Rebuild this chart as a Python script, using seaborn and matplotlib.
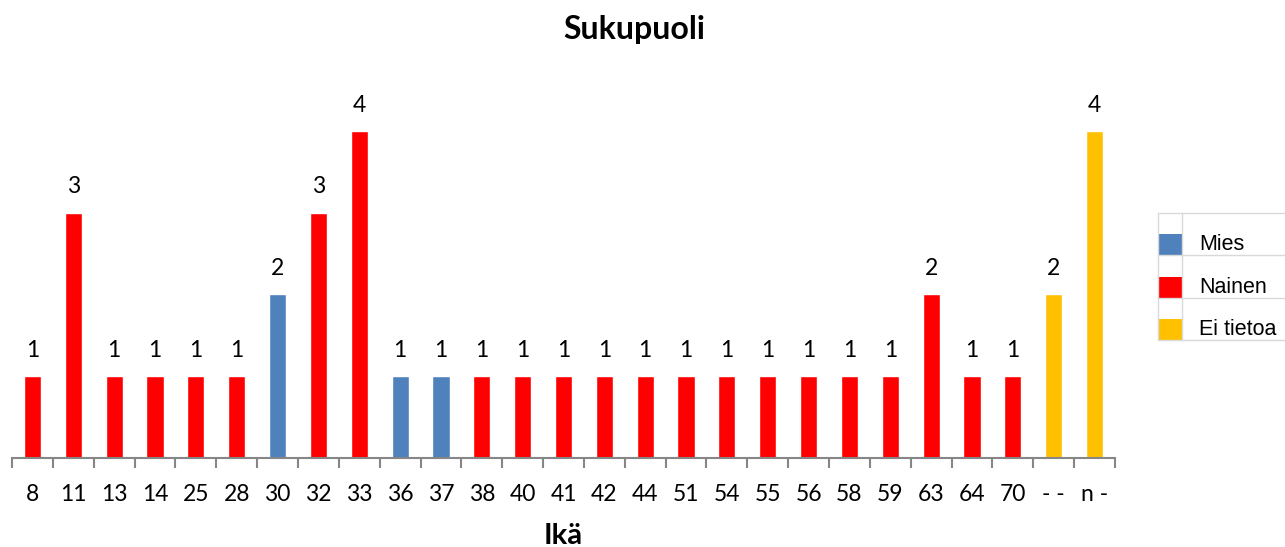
import matplotlib
matplotlib.use("Agg")
import matplotlib.pyplot as plt
import seaborn as sns
import pandas as pd
from matplotlib.patches import Rectangle
from matplotlib.lines import Line2D

ages = ["8", "11", "13", "14", "25", "28", "30", "32", "33", "36", "37", "38", "40", "41",
        "42", "44", "51", "54", "55", "56", "58", "59", "63", "64", "70", "- -", "n -"]
counts = [1, 3, 1, 1, 1, 1, 2, 3, 4, 1, 1, 1, 1, 1, 1, 1, 1, 1, 1, 1, 1, 1, 2, 1, 1, 2, 4]
gender = ["Nainen", "Nainen", "Nainen", "Nainen", "Nainen", "Nainen", "Mies", "Nainen", "Nainen",
          "Mies", "Mies", "Nainen", "Nainen", "Nainen", "Nainen", "Nainen", "Nainen", "Nainen",
          "Nainen", "Nainen", "Nainen", "Nainen", "Nainen", "Nainen", "Nainen", "Ei tietoa", "Ei tietoa"]
legend_labels = ["Mies", "Nainen", "Ei tietoa"]
colors = {"Mies": "#4F81BD", "Nainen": "#FF0000", "Ei tietoa": "#FFC000"}

sns.set_theme(style="white")
plt.rcParams['font.family'] = ['Lato', 'DejaVu Sans']
plt.rcParams['text.color'] = 'black'
plt.rcParams['xtick.color'] = 'black'
plt.rcParams['axes.labelcolor'] = 'black'

W, H = 1285, 547
fig = plt.figure(figsize=(W / 100, H / 100), dpi=100)
ax = fig.add_axes([12 / W, (H - 458) / H, (1115 - 12) / W, (458 - 90) / H])

df = pd.DataFrame({"age": ages, "count": counts, "gender": gender})
sns.barplot(data=df, x="age", y="count", hue="gender", order=ages, hue_order=legend_labels,
            palette=colors, dodge=False, width=0.42, legend=False, ax=ax, saturation=1)

ax.set_ylim(0, 4.5)
ax.set_xlim(-0.5, len(ages) - 0.5)
for sp in ["left", "right", "top"]:
    ax.spines[sp].set_visible(False)
ax.spines["bottom"].set_color("#868686")
ax.spines["bottom"].set_linewidth(1.5)
ax.set_yticks([])
ax.set_xticks(range(len(ages)))
ax.set_xticklabels(ages, fontsize=16.5, color="black")
ax.set_xticks([i - 0.5 for i in range(len(ages) + 1)], minor=True)
ax.tick_params(axis="x", which="major", length=0, pad=19)
ax.tick_params(axis="x", which="minor", length=7, width=1.5, color="#868686", direction="out", bottom=True)

for c in ax.containers:
    ax.bar_label(c, labels=[str(int(v)) if v > 0 else "" for v in c.datavalues], padding=11,
                 fontsize=16.5, color="black")

ax.set_xlabel("Ikä", fontsize=21, fontweight="bold", labelpad=13, color="black")
ax.set_ylabel("")
fig.text(634 / W, 1 - 30 / H, "Sukupuoli", ha="center", va="center", fontsize=23,
         fontweight="bold", color="black")

# table-like legend
lc = "#D9D9D9"
def fy(y):
    return 1 - y / H
for yy in [213, 255, 298, 340]:
    fig.add_artist(Line2D([1158 / W, 1.0], [fy(yy), fy(yy)], color=lc, lw=1))
for xx in [1158, 1182]:
    fig.add_artist(Line2D([xx / W, xx / W], [fy(213), fy(340)], color=lc, lw=1))
rows = [(234, 255), (277, 298), (319, 340)]
for lab, (y0, y1) in zip(legend_labels, rows):
    fig.add_artist(Rectangle((1158 / W, fy(y1)), 24 / W, (y1 - y0) / H, color=colors[lab], lw=0))
    fig.text(1199 / W, fy((y0 + y1) / 2), lab, ha="left", va="center", fontsize=15.5,
             color="black", family=["Liberation Sans", "DejaVu Sans"])

fig.savefig("out.png", dpi=100)
